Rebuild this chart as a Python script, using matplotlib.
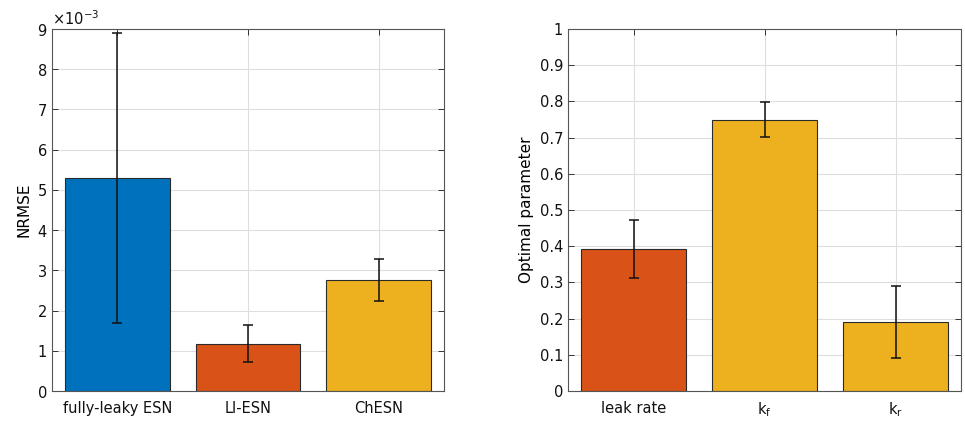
import matplotlib
matplotlib.use("Agg")
import matplotlib.pyplot as plt
from matplotlib.ticker import ScalarFormatter, FuncFormatter

# NRMSE per model
models = ["fully-leaky ESN", "LI-ESN", "ChESN"]
nrmse = [5.30e-3, 1.17e-3, 2.77e-3]
nrmse_err = [3.60e-3, 0.46e-3, 0.52e-3]
model_colors = ["#0072BD", "#D95319", "#EDB120"]

# optimal parameters
params = ["leak rate", r"k$_\mathrm{f}$", r"k$_\mathrm{r}$"]
param_vals = [0.393, 0.750, 0.190]
param_err = [0.080, 0.047, 0.099]
param_colors = ["#D95319", "#EDB120", "#EDB120"]

plt.rcParams["font.family"] = "DejaVu Sans"
plt.rcParams["font.size"] = 10.5

fig = plt.figure(figsize=(9.65, 4.21), dpi=100)
ax1 = fig.add_axes([52 / 965, 30 / 421, 392 / 965, 362 / 421])
ax2 = fig.add_axes([568 / 965, 30 / 421, 393 / 965, 362 / 421])


def style(ax):
    ax.set_axisbelow(True)
    ax.grid(True, color="#dedede", linewidth=0.8)
    for s in ax.spines.values():
        s.set_color("#555555")
        s.set_linewidth(0.8)
    ax.tick_params(direction="in", top=True, right=True, length=4,
                   width=0.7, color="#333333", labelcolor="#111111")
    ax.tick_params(axis="x", pad=7)
    ax.set_xlim(0.5, 3.5)


xs = [1, 2, 3]
ax1.bar(xs, nrmse, width=0.8, color=model_colors, edgecolor="#2a2a2a",
        linewidth=0.8, zorder=2)
ax1.errorbar(xs, nrmse, yerr=nrmse_err, fmt="none", ecolor="#111111",
             elinewidth=1.1, capsize=3.5, capthick=1.1, zorder=3)
style(ax1)
ax1.set_ylim(0, 9e-3)
ax1.set_yticks([i * 1e-3 for i in range(10)])
fmt = ScalarFormatter(useMathText=True)
fmt.set_powerlimits((-2, 2))
ax1.yaxis.set_major_formatter(fmt)
ax1.yaxis.get_offset_text().set_fontsize(10.5)
ax1.set_xticks(xs)
ax1.set_xticklabels(models)
ax1.set_ylabel("NRMSE", fontsize=11)

ax2.bar(xs, param_vals, width=0.8, color=param_colors, edgecolor="#2a2a2a",
        linewidth=0.8, zorder=2)
ax2.errorbar(xs, param_vals, yerr=param_err, fmt="none", ecolor="#111111",
             elinewidth=1.1, capsize=3.5, capthick=1.1, zorder=3)
style(ax2)
ax2.set_ylim(0, 1)
ax2.set_yticks([i / 10 for i in range(11)])
ax2.yaxis.set_major_formatter(FuncFormatter(lambda v, p: "%g" % round(v, 2)))
ax2.set_xticks(xs)
ax2.set_xticklabels(params)
ax2.set_ylabel("Optimal parameter", fontsize=11)

fig.savefig("out.png", dpi=100)
